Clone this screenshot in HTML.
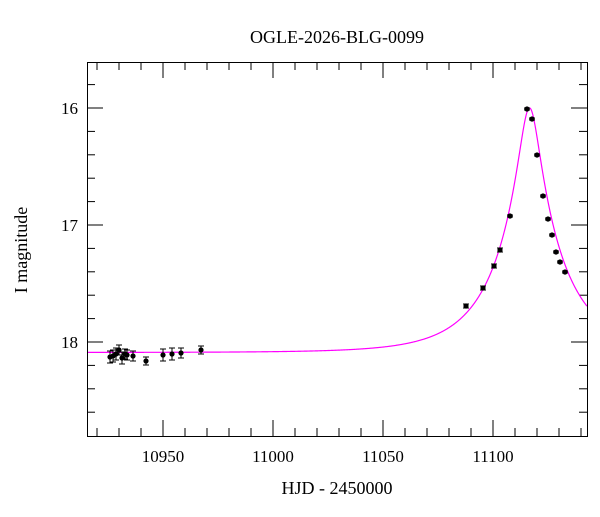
<!DOCTYPE html>
<html><head><meta charset="utf-8"><style>
body{margin:0;background:#fff}
text{font-family:"Liberation Serif","DejaVu Serif",serif;fill:#000}
</style></head><body>
<svg id="s" width="600" height="512" viewBox="0 0 600 512" xmlns="http://www.w3.org/2000/svg">
<rect width="600" height="512" fill="#fff"/>
<text x="337" y="43" font-size="18" text-anchor="middle">OGLE-2026-BLG-0099</text>
<text x="337" y="494" font-size="18" text-anchor="middle">HJD - 2450000</text>
<text transform="translate(27,250) rotate(-90)" font-size="18" text-anchor="middle">I magnitude</text>
<g font-size="17" text-anchor="middle">
<text x="163" y="462">10950</text><text x="273" y="462">11000</text><text x="383" y="462">11050</text><text x="493" y="462">11100</text>
</g>
<g font-size="17" text-anchor="end">
<text x="78" y="114">16</text><text x="78" y="231">17</text><text x="78" y="348">18</text>
</g>
<g id="ticks" stroke="#000" stroke-width="1"></g>
<path id="curve" fill="none" stroke="#ff00ff" stroke-width="1.2"/>
<g id="pts" fill="#000" stroke="#000" stroke-width="1"></g>
<rect x="87.5" y="62.5" width="500" height="374" fill="none" stroke="#000" stroke-width="1"/>
</svg>
<script>
var ns="http://www.w3.org/2000/svg";
function X(t){return 163+(t-10950)*2.2}
function Y(m){return 108+(m-16)*117}
function el(p,tag,a){var e=document.createElementNS(ns,tag);for(var k in a)e.setAttribute(k,a[k]);p.appendChild(e);return e}
var tk=document.getElementById('ticks');
for(var t=10920;t<=11140;t+=10){var x=X(t),L=(t%50==0)?16:8;
el(tk,'line',{x1:x,y1:436,x2:x,y2:436-L});el(tk,'line',{x1:x,y1:62,x2:x,y2:62+L});}
for(var i=0;i<=15;i++){var m=15.6+i*0.2,y=Y(m);if(y<62||y>436)continue;var L=(Math.abs(m-Math.round(m))<0.01)?16:8;
el(tk,'line',{x1:87,y1:y,x2:87+L,y2:y});el(tk,'line',{x1:587,y1:y,x2:587-L,y2:y});}
function mag(t){var u0=0.147,tE=30,t0=11116.6,tau=(t-t0)/tE,u=Math.sqrt(u0*u0+tau*tau);
var A=(u*u+2)/(u*Math.sqrt(u*u+4));return 18.09-2.5*Math.log10(A);}
var d="";for(var t=10915.5;t<=11142.8;t+=0.2){d+=(d?"L":"M")+X(t).toFixed(2)+","+Y(mag(t)).toFixed(2);}
document.getElementById('curve').setAttribute('d',d);
var P=[[110,357,6],[113,356,6],[116,354,6],[119,350,5],[122,358,6],[125,354,5],[127,355,5],[133,356,5],[146,361,4],[163,355,6],[172,354,6],[181,353,5],[201,350,4],
[466,306,2],[483,288,2],[494,266,2],[500,250,2],[510,216,1],[527,109,1],[532,119,1],[537,155,1],[543,196,1],[548,219,1],[552,235,1],[556,252,1],[560,262,1],[565,272,1]];
var g=document.getElementById('pts');
P.forEach(function(p){var x=p[0],y=p[1],e=p[2];
el(g,'line',{x1:x,y1:y-e,x2:x,y2:y+e});el(g,'line',{x1:x-3,y1:y-e,x2:x+3,y2:y-e});el(g,'line',{x1:x-3,y1:y+e,x2:x+3,y2:y+e});
el(g,'circle',{cx:x,cy:y,r:2.6,stroke:'none'});});
</script>
</body></html>
